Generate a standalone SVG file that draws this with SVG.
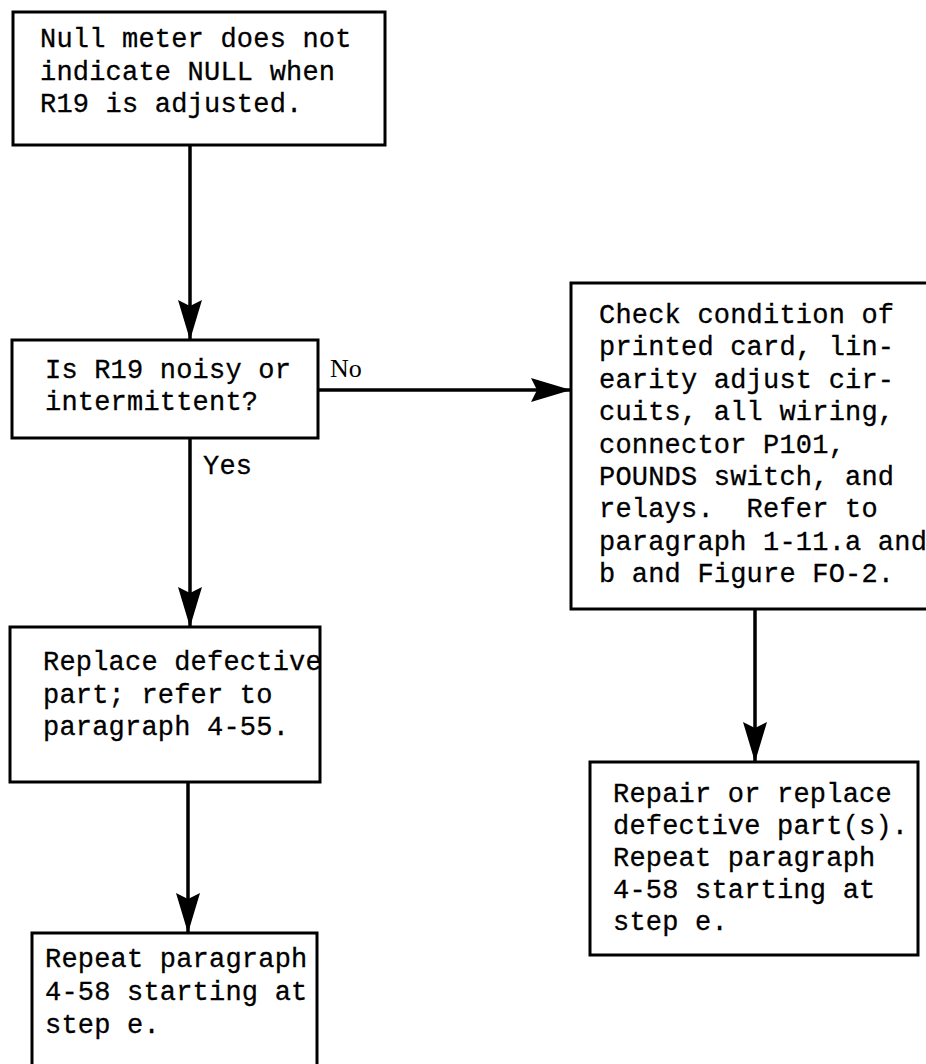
<svg xmlns="http://www.w3.org/2000/svg" width="926" height="1064" viewBox="0 0 926 1064">
<style>
.box{fill:#fff;stroke:#000;stroke-width:3}
.t{font-family:"Liberation Mono",monospace;font-size:27px;letter-spacing:0.2px;fill:#000;stroke:#000;stroke-width:0.3}
.lbl{font-family:"Liberation Serif",serif;font-size:26px;fill:#000}
.c{fill:none;stroke:#000;stroke-width:3.5}
</style>
<defs>
<marker id="ah" markerUnits="userSpaceOnUse" markerWidth="42" markerHeight="26" refX="40" refY="13" orient="auto">
<path d="M0,1 L40,13 L0,25 L6,13 Z" fill="#000"/>
</marker>
</defs>
<rect width="926" height="1064" fill="#fff"/>
<g id="n1">
<rect class="box" x="13" y="12" width="372" height="133"/>
<text class="t" x="40" y="47">Null meter does not</text>
<text class="t" x="40" y="80">indicate NULL when</text>
<text class="t" x="40" y="112">R19 is adjusted.</text>
</g>
<g id="n2">
<rect class="box" x="12" y="340" width="306" height="98"/>
<text class="t" x="45" y="378">Is R19 noisy or</text>
<text class="t" x="45" y="410">intermittent?</text>
</g>
<g id="n3">
<rect class="box" x="571" y="283" width="362" height="326"/>
<text class="t" x="599" y="323">Check condition of</text>
<text class="t" x="599" y="355">printed card, lin-</text>
<text class="t" x="599" y="388">earity adjust cir-</text>
<text class="t" x="599" y="420">cuits, all wiring,</text>
<text class="t" x="599" y="453">connector P101,</text>
<text class="t" x="599" y="485">POUNDS switch, and</text>
<text class="t" x="599" y="517" xml:space="preserve">relays.  Refer to</text>
<text class="t" x="599" y="550">paragraph 1-11.a and</text>
<text class="t" x="599" y="582">b and Figure FO-2.</text>
</g>
<g id="n4">
<rect class="box" x="10" y="627" width="310" height="155"/>
<text class="t" x="43" y="670">Replace defective</text>
<text class="t" x="43" y="703">part; refer to</text>
<text class="t" x="43" y="735">paragraph 4-55.</text>
</g>
<g id="n5">
<rect class="box" x="32" y="933" width="285" height="140"/>
<text class="t" x="45" y="967">Repeat paragraph</text>
<text class="t" x="45" y="1000">4-58 starting at</text>
<text class="t" x="45" y="1033">step e.</text>
</g>
<g id="n6">
<rect class="box" x="590" y="762" width="328" height="193"/>
<text class="t" x="613" y="802">Repair or replace</text>
<text class="t" x="613" y="834">defective part(s).</text>
<text class="t" x="613" y="866">Repeat paragraph</text>
<text class="t" x="613" y="898">4-58 starting at</text>
<text class="t" x="613" y="930">step e.</text>
</g>
<g id="connectors">
<path class="c" d="M190,145 V340" marker-end="url(#ah)"/>
<path class="c" d="M318,390 H571" marker-end="url(#ah)"/>
<path class="c" d="M190,438 V627" marker-end="url(#ah)"/>
<path class="c" d="M188,782 V933" marker-end="url(#ah)"/>
<path class="c" d="M755,609 V762" marker-end="url(#ah)"/>
<text class="lbl" x="330" y="377">No</text>
<text class="t" x="203" y="474">Yes</text>
</g>
</svg>
